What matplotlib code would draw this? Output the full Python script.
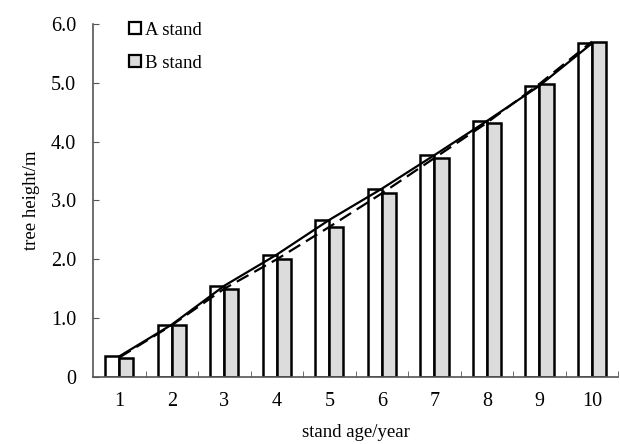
import numpy as np
import matplotlib.pyplot as plt
from matplotlib.lines import Line2D

plt.rcParams['font.family'] = ['Liberation Serif', 'DejaVu Serif']

ages = [1, 2, 3, 4, 5, 6, 7, 8, 9, 10]
stand_a = [0.35, 0.89, 1.55, 2.08, 2.67, 3.20, 3.77, 4.35, 4.95, 5.67]
stand_b = [0.33, 0.88, 1.50, 2.00, 2.55, 3.12, 3.72, 4.32, 4.98, 5.70]
yticks = [0, 1, 2, 3, 4, 5, 6]
ylabels = ['0', '1.0', '2.0', '3.0', '4.0', '5.0', '6.0']

fig = plt.figure(figsize=(6.2, 4.44), dpi=100)
ax = fig.add_axes([0.150, 0.151, 0.847, 0.795])

x = np.array(ages)
w = 0.27
ax.bar(x - w/2, stand_a, w, color='white', edgecolor='black', linewidth=1.8, zorder=2)
ax.bar(x + w/2, stand_b, w, color='#dcdcdc', edgecolor='black', linewidth=1.8, zorder=2)
ax.plot(x, stand_a, color='black', lw=1.6, zorder=3)
ax.plot(x, stand_b, color='black', lw=1.6, ls=(0, (6, 3)), zorder=3)

ax.set_xlim(0.5, 10.5)
ax.set_ylim(0, 6)
ax.set_xticks(x)
ax.set_xticklabels([str(a) for a in ages])
ax.set_xticks(np.arange(1.5, 10.6, 1), minor=True)
ax.tick_params(axis='x', which='major', length=0, pad=11, labelsize=14.5)
ax.tick_params(axis='x', which='minor', direction='in', length=4, color='#555555')
ax.set_yticks(yticks)
ax.set_yticklabels(ylabels)
ax.tick_params(axis='y', direction='in', length=4, labelsize=14.5, pad=12, color='#555555')

for s in ['top', 'right']:
    ax.spines[s].set_visible(False)
for s in ['left', 'bottom']:
    ax.spines[s].set_color('#555555')
    ax.spines[s].set_linewidth(1.2)

ax.set_xlabel('stand age/year', fontsize=13.5, labelpad=9)
ax.set_ylabel('tree height/m', fontsize=13.5, labelpad=8)

handles = [Line2D([], [], ls='none', marker='s', markersize=8, markerfacecolor='white',
                  markeredgecolor='black', markeredgewidth=1.6),
           Line2D([], [], ls='none', marker='s', markersize=8, markerfacecolor='#dcdcdc',
                  markeredgecolor='black', markeredgewidth=1.6)]
ax.legend(handles, ['A stand', 'B stand'], loc='upper left', bbox_to_anchor=(0.035, 1.055),
          frameon=False, fontsize=13.5, handlelength=0.7, handletextpad=0.2, labelspacing=0.85)

fig.savefig('out.png', dpi=100)
